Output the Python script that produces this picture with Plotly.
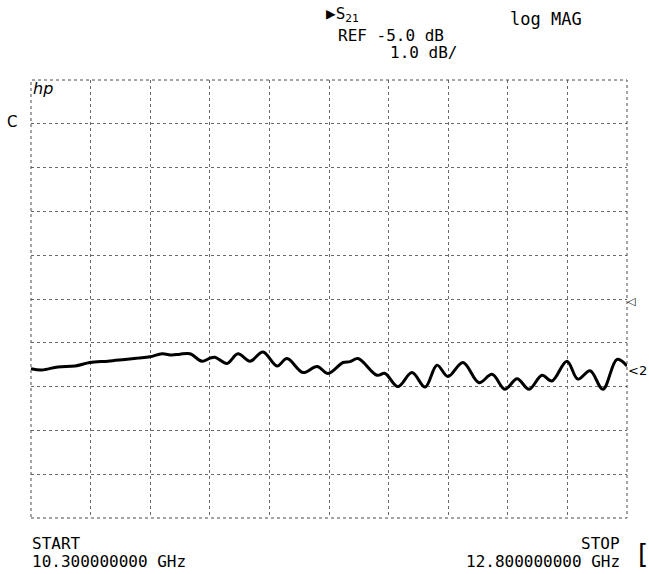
import plotly.graph_objects as go

# Trace (frequency in GHz, S21 magnitude in dB)
freq_ghz = [10.300, 10.345, 10.413, 10.485, 10.547, 10.623, 10.694, 10.749, 10.799, 10.850,
            10.891, 10.925, 10.967, 11.017, 11.051, 11.072, 11.122, 11.168, 11.219, 11.273,
            11.332, 11.374, 11.441, 11.500, 11.546, 11.609, 11.638, 11.672, 11.751, 11.785,
            11.839, 11.898, 11.953, 12.003, 12.049, 12.112, 12.179, 12.234, 12.288, 12.339,
            12.389, 12.443, 12.485, 12.548, 12.594, 12.645, 12.699, 12.758, 12.800]
s21_db = [-6.59, -6.62, -6.55, -6.53, -6.45, -6.42, -6.38, -6.35, -6.32, -6.25,
          -6.28, -6.26, -6.25, -6.42, -6.35, -6.33, -6.47, -6.25, -6.42, -6.21,
          -6.53, -6.36, -6.68, -6.54, -6.70, -6.45, -6.43, -6.36, -6.74, -6.70,
          -7.00, -6.68, -7.01, -6.51, -6.77, -6.45, -6.91, -6.72, -7.06, -6.82,
          -7.06, -6.74, -6.87, -6.42, -6.83, -6.64, -7.06, -6.38, -6.53]

start_ghz = 10.3
stop_ghz = 12.8
ref_db = -5.0
scale_db = 1.0
x_ticks = [start_ghz + i * (stop_ghz - start_ghz) / 10 for i in range(11)]
y_ticks = [ref_db + (5 - i) * scale_db for i in range(11)]

W, H = 649, 574
L, R, T, B = 31, 627, 80, 518

def px(x):
    return (x - L) / (R - L)

def py(y):
    return (B - y) / (B - T)

MONO = "DejaVu Sans Mono"

fig = go.Figure()
fig.add_trace(go.Scatter(x=freq_ghz, y=s21_db, mode="lines",
                         line=dict(color="black", width=3, shape="spline", smoothing=1.0),
                         hoverinfo="skip", showlegend=False))

grid = dict(showgrid=True, gridcolor="#6a6a6a", griddash="dot", gridwidth=1,
            showticklabels=False, ticks="", zeroline=False, showline=False, fixedrange=True)
fig.update_xaxes(range=[start_ghz, stop_ghz], tickmode="array", tickvals=x_ticks, **grid)
fig.update_yaxes(range=[y_ticks[-1], y_ticks[0]], tickmode="array", tickvals=y_ticks, **grid)

fig.add_shape(type="rect", xref="paper", yref="paper", x0=0, x1=1, y0=0, y1=1,
              line=dict(color="#4a4a4a", width=1, dash="dot"))

ann = []
def A(text, x, y, xanchor="left", size=18, family=MONO):
    ann.append(dict(text=text, x=px(x), y=py(y), xref="paper", yref="paper",
                    xanchor=xanchor, yanchor="middle", showarrow=False,
                    font=dict(family=family, size=size, color="black")))

A("▶S<sub>21</sub>", 324, 15, size=16)
A("REF -5.0 dB", 336, 35, size=16)
A("1.0 dB/", 388, 53, size=16)
A("log MAG", 508, 19, size=17)
A("<i>hp</i>", 31, 89, size=16, family="DejaVu Sans")
A("C", 12, 122, xanchor="center", size=15, family="DejaVu Sans")
A("START", 30, 543, size=16)
A("10.300000000 GHz", 30, 561, size=16)
A("STOP", 622, 543, xanchor="right", size=16)
A("12.800000000 GHz", 622, 561, xanchor="right", size=16)
A("&lt;2", 626, 370, size=13, family="DejaVu Sans")
A("◁", 625, 301, size=11, family="DejaVu Sans")
A("[", 636, 554, size=26, family="DejaVu Sans")

fig.update_layout(width=W, height=H, margin=dict(l=L, r=W - R, t=T, b=H - B),
                  paper_bgcolor="white", plot_bgcolor="white", annotations=ann,
                  showlegend=False)
fig.write_html("out.html", config={"displayModeBar": False},
               post_script="document.body.style.margin='0';")
